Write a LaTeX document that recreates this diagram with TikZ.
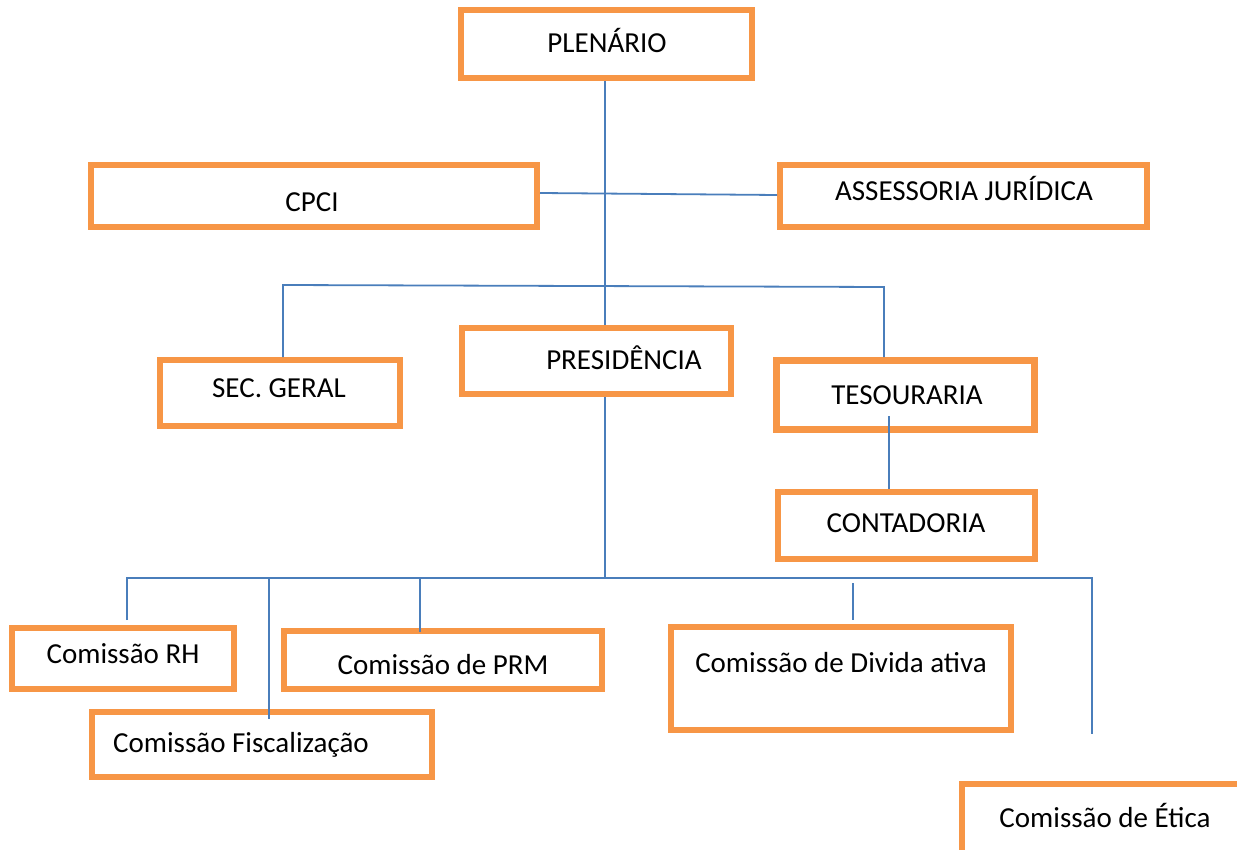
\documentclass[tikz,border=0pt]{standalone}
\usepackage{fontspec}
\setmainfont{Carlito}
\definecolor{boxorange}{HTML}{F79646}
\definecolor{lineblue}{HTML}{4A7EBB}
\begin{document}
\begin{tikzpicture}[x=1pt,y=-1pt,
  box/.style={draw=boxorange,line width=6pt,fill=white,rectangle,inner sep=0pt},
  lbl/.style={font=\fontsize{29}{34}\selectfont,text=black,inner sep=0pt,anchor=center},
  conn/.style={draw=lineblue,line width=1.8pt}]
\useasboundingbox (0,0) rectangle (1237,850);
\clip (0,0) rectangle (1237,850);
% boxes
\node[box,minimum width=291pt,minimum height=68pt] (plen) at (606.5,44) {};
\node[box,minimum width=446pt,minimum height=62pt] (cpci) at (314,196) {};
\node[box,minimum width=367pt,minimum height=62pt] (asse) at (963.5,196) {};
\node[box,minimum width=240pt,minimum height=66pt] (sec) at (280,393) {};
\node[box,minimum width=269pt,minimum height=66pt] (pres) at (596.5,361) {};
\node[box,line width=7pt,minimum width=258pt,minimum height=69pt] (tes) at (905.5,395) {};
\node[box,minimum width=257pt,minimum height=67pt] (cont) at (906.5,525.5) {};
\node[box,minimum width=222pt,minimum height=61pt] (rh) at (123,658.5) {};
\node[box,minimum width=318pt,minimum height=58pt] (prm) at (443,660) {};
\node[box,minimum width=340pt,minimum height=65pt] (fisc) at (262,744.5) {};
\node[box,minimum width=340pt,minimum height=103pt] (div) at (841,678.5) {};
\node[box,minimum width=315pt,minimum height=113pt] (etica) at (1119.5,840.5) {};
% labels
\node[lbl] (plenT) at (607,40) {PLENÁRIO};
\node[lbl] (cpciT) at (312,202) {CPCI};
\node[lbl] (asseT) at (964,189) {ASSESSORIA JURÍDICA};
\node[lbl] (secT) at (279,388) {SEC. GERAL};
\node[lbl] (presT) at (624,358) {PRESIDÊNCIA};
\node[lbl] (tesT) at (907,395) {TESOURARIA};
\node[lbl] (contT) at (906,523) {CONTADORIA};
\node[lbl] (rhT) at (123,654) {Comissão RH};
\node[lbl] (prmT) at (443,665) {Comissão de PRM};
\node[lbl] (fiscT) at (241,745) {Comissão Fiscalização};
\node[lbl] (divT) at (841,663) {Comissão de Divida ativa};
\node[lbl] (eticaT) at (1105,815) {Comissão de Ética};
% coordinates
\coordinate (mx) at (605,0);
\coordinate (bl) at (283,285);
\coordinate (br) at (884,287);
\coordinate (tc) at (889,416);
\coordinate (b0) at (127,578);
\coordinate (b1) at (269,578);
\coordinate (b2) at (420,578);
\coordinate (b4) at (1092,578);
\coordinate (dtop) at (853,583);
\coordinate (rhE) at (127,620);
\coordinate (fiE) at (269,719);
\coordinate (prE) at (420,632);
\coordinate (dvE) at (853,620);
\coordinate (etE) at (1092,734);
% connectors
\draw[conn] (plen.south -| mx) -- (pres.north -| mx);
\draw[conn] ([yshift=3pt]cpci.east) -- ([yshift=1pt]asse.west);
\draw[conn] (bl |- sec.north) -- (bl) -- (br) -- (br |- tes.north);
\draw[conn] (tc) -- (cont.north -| tc);
\draw[conn] (pres.south -| mx) -- (mx |- b0);
\draw[conn] (rhE) -- (b0) -- (b4) -- (etE);
\draw[conn] (b1) -- (fiE);
\draw[conn] (b2) -- (prE);
\draw[conn] (dtop) -- (dvE);
\end{tikzpicture}
\end{document}
